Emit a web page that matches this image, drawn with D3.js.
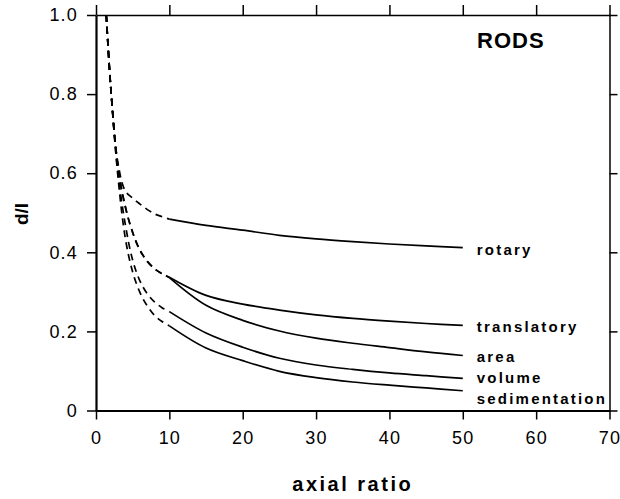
<!DOCTYPE html>
<html>
<head>
<meta charset="utf-8">
<script src="https://cdn.jsdelivr.net/npm/d3@7"></script>
<style>
  body { margin: 0; background: #fff; }
  svg { display: block; font-family: 'Liberation Sans', Arial, sans-serif; }
  .axis text { font-size: 18px; letter-spacing: 1.2px; fill: #000; }
  .axis path, .axis line { stroke: #000; }
</style>
</head>
<body>
<svg width="620" height="499"></svg>
<script>
// axial ratio values (dashed part up to 10, solid part 10-50)
var dashX = [1.4, 2, 3, 4, 5, 6, 7, 8, 9, 10];
var solidX = [10, 15, 20, 25, 30, 35, 40, 45, 50];

var seriesNames = ['rotary', 'translatory', 'area', 'volume', 'sedimentation'];

// d/l, dashed section
var rotaryDash = [1.0, 0.82, 0.625, 0.555, 0.537, 0.522, 0.508, 0.497, 0.49, 0.484];
var translatoryDash = [1.0, 0.82, 0.615, 0.515, 0.45, 0.405, 0.377, 0.358, 0.346, 0.337];
var areaDash = [1.0, 0.82, 0.615, 0.515, 0.45, 0.405, 0.377, 0.358, 0.346, 0.336];
var volumeDash = [1.0, 0.82, 0.60, 0.47, 0.38, 0.327, 0.295, 0.274, 0.26, 0.25];
var sedimentationDash = [1.0, 0.82, 0.59, 0.435, 0.35, 0.298, 0.264, 0.24, 0.225, 0.214];

// d/l, solid section
var rotarySolid = [0.484, 0.468, 0.456, 0.443, 0.434, 0.427, 0.421, 0.416, 0.412];
var translatorySolid = [0.337, 0.291, 0.269, 0.254, 0.242, 0.233, 0.226, 0.22, 0.215];
var areaSolid = [0.336, 0.266, 0.228, 0.201, 0.183, 0.17, 0.159, 0.148, 0.139];
var volumeSolid = [0.25, 0.196, 0.16, 0.132, 0.115, 0.104, 0.095, 0.088, 0.081];
var sedimentationSolid = [0.214, 0.158, 0.126, 0.099, 0.083, 0.072, 0.064, 0.057, 0.05];

var xTicks = [0, 10, 20, 30, 40, 50, 60, 70];
var yTicks = [0, 0.2, 0.4, 0.6, 0.8, 1.0];
var yTickLabels = ['0', '0.2', '0.4', '0.6', '0.8', '1.0'];

// label baselines (y pixel) next to curve ends
var labelY = [255, 332, 362, 383, 404];

var dashed = [rotaryDash, translatoryDash, areaDash, volumeDash, sedimentationDash];
var solid = [rotarySolid, translatorySolid, areaSolid, volumeSolid, sedimentationSolid];

var svg = d3.select('svg');

var xScale = d3.scaleLinear().domain([0, 70]).range([96, 609.5]);
var yScale = d3.scaleLinear().domain([0, 1]).range([410.5, 15]);

// 軸
svg.append('g')
    .attr('class', 'axis')
    .attr('transform', 'translate(0,' + yScale(0) + ')')
    .call(d3.axisBottom(xScale).tickValues(xTicks).tickSize(9).tickSizeOuter(0).tickPadding(12))
    .call(function(g) { g.select('.domain').attr('stroke-width', 2); })
    .selectAll('line').attr('stroke-width', 1.5);

svg.append('g')
    .attr('class', 'axis')
    .attr('transform', 'translate(0,' + yScale(1) + ')')
    .call(d3.axisTop(xScale).tickValues(xTicks).tickSize(10).tickSizeOuter(0).tickFormat(''))
    .call(function(g) { g.select('.domain').attr('stroke-width', 1.5); })
    .selectAll('line').attr('stroke-width', 1.5);

svg.append('g')
    .attr('class', 'axis')
    .attr('transform', 'translate(' + xScale(0) + ',0)')
    .call(d3.axisLeft(yScale).tickValues(yTicks).tickSize(9).tickSizeOuter(0).tickPadding(9)
        .tickFormat(function(d, i) { return yTickLabels[i]; }))
    .call(function(g) { g.select('.domain').attr('stroke-width', 2.2); })
    .selectAll('line').attr('stroke-width', 1.5);

svg.append('g')
    .attr('class', 'axis')
    .attr('transform', 'translate(' + xScale(70) + ',0)')
    .call(d3.axisRight(yScale).tickValues(yTicks).tickSize(8).tickSizeOuter(0).tickFormat(''))
    .call(function(g) { g.select('.domain').attr('stroke-width', 1.5); })
    .selectAll('line').attr('stroke-width', 1.5);

// curves (smooth through the read-off points)
var line = d3.line()
    .x(function(d) { return xScale(d[0]); })
    .y(function(d) { return yScale(d[1]); })
    .curve(d3.curveCatmullRom.alpha(0.5));

seriesNames.forEach(function(name, i) {
  svg.append('path')
      .datum(dashX.map(function(x, j) { return [x, dashed[i][j]]; }))
      .attr('fill', 'none')
      .attr('stroke', '#000')
      .attr('stroke-width', 1.7)
      .attr('stroke-dasharray', '7,5')
      .attr('d', line);

  svg.append('path')
      .datum(solidX.map(function(x, j) { return [x, solid[i][j]]; }))
      .attr('fill', 'none')
      .attr('stroke', '#000')
      .attr('stroke-width', 1.7)
      .attr('d', line);

  svg.append('text')
      .attr('x', xScale(50) + 14)
      .attr('y', labelY[i])
      .style('font-size', '15px')
      .style('font-weight', 'bold')
      .style('letter-spacing', '2.2px')
      .style('fill', '#000')
      .text(name);
});

// title, axis labels
svg.append('text')
    .attr('x', 477)
    .attr('y', 48)
    .style('font-size', '22px')
    .style('font-weight', 'bold')
    .style('letter-spacing', '1px')
    .style('fill', '#000')
    .text('RODS');

svg.append('text')
    .attr('x', (xScale(0) + xScale(70)) / 2)
    .attr('y', 491)
    .attr('text-anchor', 'middle')
    .style('font-size', '20px')
    .style('font-weight', 'bold')
    .style('letter-spacing', '2.5px')
    .style('fill', '#000')
    .text('axial ratio');

svg.append('text')
    .attr('transform', 'translate(28,214) rotate(-90)')
    .attr('text-anchor', 'middle')
    .style('font-size', '19px')
    .style('font-weight', 'bold')
    .style('fill', '#000')
    .text('d/l');
</script>
</body>
</html>
